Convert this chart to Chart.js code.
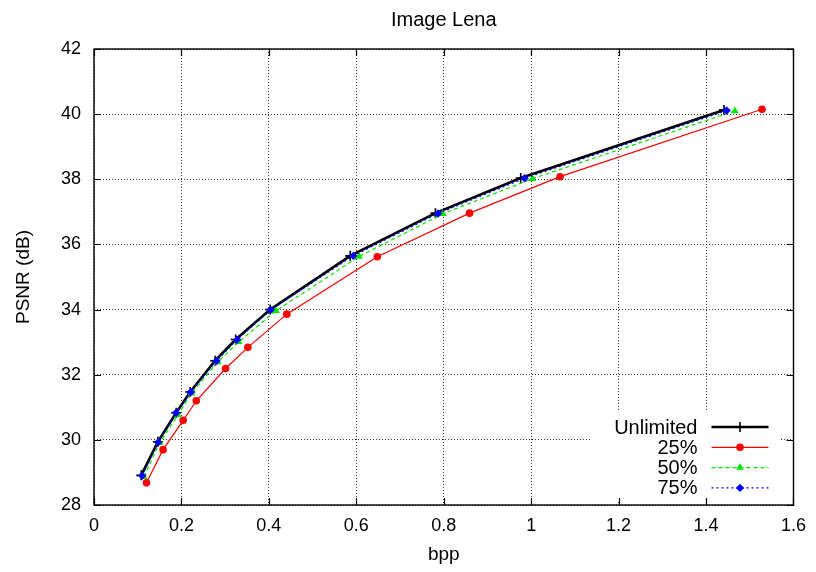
<!DOCTYPE html>
<html lang="en">

<head>
  <meta charset="UTF-8">
  <title>Image Lena</title>
  <script src="https://cdn.jsdelivr.net/npm/chart.js@4.4.0/dist/chart.umd.min.js"></script>
  <style>
    html, body {
      margin: 0;
      padding: 0;
      background: #fff;
    }
    #wrap {
      width: 816px;
      height: 572px;
    }
  </style>
</head>

<body>
  <div id="wrap">
    <canvas id="psnrChart" width="816" height="572"></canvas>
  </div>

  <script>
    // rate (bpp) / PSNR (dB) pairs for each setting
    const seriesLabels = ['Unlimited', '25%', '50%', '75%'];

    const unlimitedBpp = [0.108, 0.146, 0.188, 0.220, 0.277, 0.324, 0.403, 0.586, 0.781, 0.976, 1.441];
    const unlimitedPsnr = [28.91, 29.94, 30.83, 31.47, 32.43, 33.08, 34.00, 35.65, 36.96, 38.04, 40.13];

    const q25Bpp = [0.120, 0.158, 0.204, 0.234, 0.301, 0.352, 0.441, 0.648, 0.859, 1.066, 1.528];
    const q25Psnr = [28.68, 29.70, 30.60, 31.20, 32.19, 32.84, 33.86, 35.62, 36.96, 38.08, 40.15];

    const q50Bpp = [0.114, 0.150, 0.192, 0.223, 0.283, 0.331, 0.416, 0.606, 0.798, 1.003, 1.466];
    const q50Psnr = [28.87, 29.91, 30.76, 31.43, 32.39, 33.01, 33.96, 35.63, 36.94, 38.02, 40.10];

    const q75Bpp = [0.110, 0.147, 0.188, 0.221, 0.280, 0.327, 0.404, 0.593, 0.787, 0.985, 1.447];
    const q75Psnr = [28.90, 29.93, 30.83, 31.46, 32.42, 33.07, 33.99, 35.65, 36.95, 38.03, 40.11];

    const xTicks = [0, 0.2, 0.4, 0.6, 0.8, 1, 1.2, 1.4, 1.6];
    const yTicks = [28, 30, 32, 34, 36, 38, 40, 42];

    const FONT = '"Liberation Sans", Arial, Helvetica, sans-serif';

    function toPoints(xs, ys) {
      return xs.map((x, i) => ({ x: x, y: ys[i] }));
    }

    // title, white key box with samples, and the frame with inward ticks
    const gnuplotLook = {
      id: 'gnuplotLook',
      afterDatasetsDraw(chart) {
        const { ctx, chartArea: a } = chart;
        ctx.save();

        // title
        ctx.fillStyle = '#000';
        ctx.font = '20px ' + FONT;
        ctx.textAlign = 'center';
        ctx.textBaseline = 'alphabetic';
        ctx.fillText('Image Lena', (a.left + a.right) / 2, 26);

        // key
        ctx.fillStyle = '#fff';
        ctx.fillRect(a.right - 203, a.bottom - 93, 190, 88);

        const textRight = a.right - 96;
        const sampleStart = a.right - 82;
        const sampleEnd = a.right - 25;
        ctx.font = '20px ' + FONT;
        ctx.textAlign = 'right';
        ctx.textBaseline = 'middle';
        chart.data.datasets.forEach((ds, i) => {
          const y = a.bottom - 78 + i * 20.3;
          ctx.fillStyle = '#000';
          ctx.fillText(ds.label, textRight, y + 1);

          ctx.save();
          ctx.strokeStyle = ds.borderColor;
          ctx.lineWidth = ds.borderWidth;
          ctx.setLineDash(ds.borderDash || []);
          ctx.beginPath();
          ctx.moveTo(sampleStart, y);
          ctx.lineTo(sampleEnd, y);
          ctx.stroke();
          ctx.setLineDash([]);
          ctx.fillStyle = ds.pointBackgroundColor;
          ctx.strokeStyle = ds.pointBorderColor;
          ctx.lineWidth = ds.pointBorderWidth;
          Chart.helpers.drawPoint(ctx, {
            pointStyle: ds.pointStyle,
            radius: ds.pointRadius,
            rotation: 0,
            borderWidth: ds.pointBorderWidth
          }, (sampleStart + sampleEnd) / 2, y);
          ctx.restore();
        });

        // frame
        ctx.strokeStyle = '#000';
        ctx.lineWidth = 1.4;
        ctx.setLineDash([]);
        ctx.strokeRect(a.left, a.top, a.right - a.left, a.bottom - a.top);

        // inward tick marks on all four sides
        const xs = chart.scales.x;
        const ys = chart.scales.y;
        const len = 7;
        ctx.lineWidth = 1.2;
        ctx.beginPath();
        xTicks.forEach(v => {
          const px = Math.round(xs.getPixelForValue(v)) + 0.5;
          ctx.moveTo(px, a.bottom);
          ctx.lineTo(px, a.bottom - len);
          ctx.moveTo(px, a.top);
          ctx.lineTo(px, a.top + len);
        });
        yTicks.forEach(v => {
          const py = Math.round(ys.getPixelForValue(v)) + 0.5;
          ctx.moveTo(a.left, py);
          ctx.lineTo(a.left + len, py);
          ctx.moveTo(a.right, py);
          ctx.lineTo(a.right - len, py);
        });
        ctx.stroke();
        ctx.restore();
      }
    };

    const ctx = document.getElementById('psnrChart').getContext('2d');

    new Chart(ctx, {
      type: 'line',
      data: {
        datasets: [
          {
            label: seriesLabels[0],
            data: toPoints(unlimitedBpp, unlimitedPsnr),
            borderColor: '#000000',
            borderWidth: 2.6,
            pointStyle: 'cross',
            pointRadius: 5,
            pointBorderWidth: 1.6,
            pointBackgroundColor: '#000000',
            pointBorderColor: '#000000',
            order: 4
          },
          {
            label: seriesLabels[1],
            data: toPoints(q25Bpp, q25Psnr),
            borderColor: '#ff0000',
            borderWidth: 1.2,
            pointStyle: 'circle',
            pointRadius: 3.8,
            pointBorderWidth: 0,
            pointBackgroundColor: '#ff0000',
            pointBorderColor: '#ff0000',
            order: 3
          },
          {
            label: seriesLabels[2],
            data: toPoints(q50Bpp, q50Psnr),
            borderColor: '#00e600',
            borderWidth: 1.2,
            borderDash: [4, 3],
            pointStyle: 'triangle',
            pointRadius: 4.5,
            pointBorderWidth: 0,
            pointBackgroundColor: '#00e600',
            pointBorderColor: '#00e600',
            order: 2
          },
          {
            label: seriesLabels[3],
            data: toPoints(q75Bpp, q75Psnr),
            borderColor: '#0000ff',
            borderWidth: 1.2,
            borderDash: [2, 3],
            pointStyle: 'rectRot',
            pointRadius: 4.2,
            pointBorderWidth: 0,
            pointBackgroundColor: '#0000ff',
            pointBorderColor: '#0000ff',
            order: 1
          }
        ]
      },
      options: {
        responsive: false,
        animation: false,
        events: [],
        layout: {
          padding: { top: 49, right: 20, bottom: 0, left: 0 }
        },
        elements: {
          line: { tension: 0, fill: false }
        },
        plugins: {
          legend: { display: false },
          title: { display: false },
          tooltip: { enabled: false }
        },
        scales: {
          x: {
            type: 'linear',
            min: 0,
            max: 1.6,
            afterBuildTicks: scale => {
              scale.ticks = xTicks.map(v => ({ value: v }));
            },
            afterFit: scale => {
              scale.height = 67;
            },
            ticks: {
              color: '#000',
              padding: 10,
              font: { family: FONT, size: 18 },
              callback: v => String(v)
            },
            grid: {
              drawTicks: false,
              color: '#333',
              lineWidth: 1
            },
            border: { display: false, dash: [1, 2] },
            title: {
              display: true,
              text: 'bpp',
              color: '#000',
              font: { family: FONT, size: 19 },
              padding: { top: 0, bottom: 6 }
            }
          },
          y: {
            type: 'linear',
            min: 28,
            max: 42,
            afterBuildTicks: scale => {
              scale.ticks = yTicks.map(v => ({ value: v }));
            },
            afterFit: scale => {
              scale.width = 94;
            },
            ticks: {
              color: '#000',
              padding: 13,
              font: { family: FONT, size: 18 },
              callback: v => String(v)
            },
            grid: {
              drawTicks: false,
              color: '#333',
              lineWidth: 1
            },
            border: { display: false, dash: [1, 2] },
            title: {
              display: true,
              text: 'PSNR (dB)',
              color: '#000',
              font: { family: FONT, size: 19 },
              padding: { top: 12, bottom: 0 }
            }
          }
        }
      },
      plugins: [gnuplotLook]
    });
  </script>
</body>

</html>
